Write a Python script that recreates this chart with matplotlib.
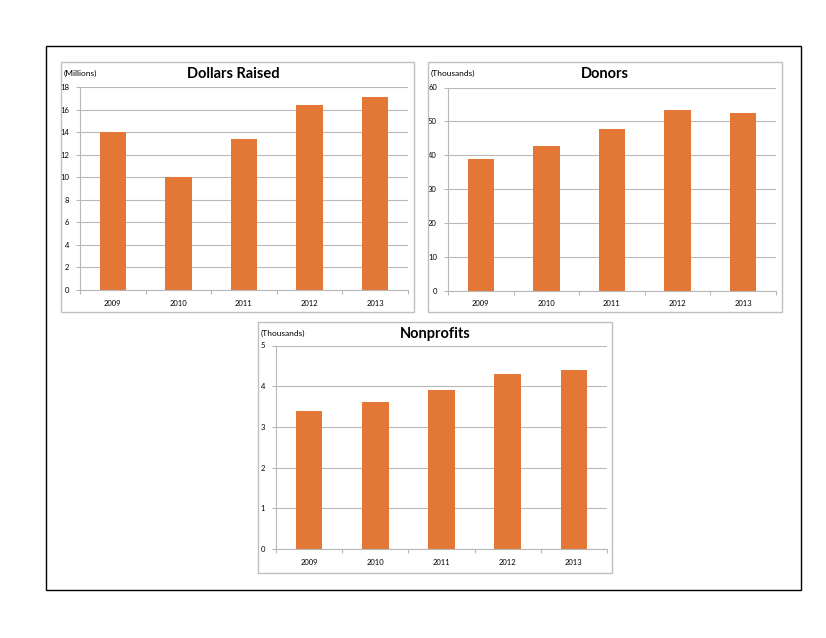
import matplotlib
matplotlib.use('Agg')
import matplotlib.pyplot as plt
from matplotlib.patches import Rectangle

W, H = 826, 638

years = ['2009', '2010', '2011', '2012', '2013']
dollars = [14.0, 10.0, 13.4, 16.4, 17.1]
donors = [38.8, 42.6, 47.6, 53.3, 52.4]
nonprofits = [3.4, 3.6, 3.9, 4.3, 4.4]

bar_color = '#E37735'
grid_color = '#B8B8B8'

plt.rcParams['font.family'] = ['Lato', 'DejaVu Sans']

fig = plt.figure(figsize=(W / 100, H / 100), dpi=100)


def frac(x0, y0, x1, y1):
    # pixel box (top-left origin) -> figure fraction [left, bottom, width, height]
    return [x0 / W, 1 - y1 / H, (x1 - x0) / W, (y1 - y0) / H]


def add_box(x0, y0, x1, y1, color, lw):
    l, b, w, h = frac(x0, y0, x1, y1)
    fig.patches.append(Rectangle((l, b), w, h, transform=fig.transFigure,
                                 fill=False, edgecolor=color, linewidth=lw))


# outer frame
add_box(45.5, 45.5, 801, 589.5, 'black', 1.0)


def panel(box, plot, values, ymax, step, title, unit, title_x):
    add_box(*box, '#BFBFBF', 1.0)
    ax = fig.add_axes(frac(*plot))
    x = range(len(values))
    ax.bar(x, values, width=0.4, color=bar_color, zorder=2)
    ax.set_xlim(-0.5, len(values) - 0.5)
    ax.set_ylim(0, ymax)
    ax.set_yticks(range(0, ymax + 1, step))
    ax.yaxis.grid(True, color=grid_color, linewidth=0.8, zorder=0)
    ax.set_axisbelow(True)
    # separators between categories as major ticks, labels on minor ticks
    ax.set_xticks([i + 0.5 for i in range(-1, len(values))], minor=False)
    ax.set_xticklabels([])
    ax.set_xticks(list(x), minor=True)
    ax.set_xticklabels(years, minor=True)
    ax.tick_params(axis='x', which='major', length=3, color=grid_color)
    ax.tick_params(axis='x', which='minor', length=0, labelsize=5.5, pad=7)
    ax.tick_params(axis='y', length=3, color=grid_color, labelsize=5.5, pad=5)
    for s in ['top', 'right']:
        ax.spines[s].set_visible(False)
    for s in ['left', 'bottom']:
        ax.spines[s].set_color(grid_color)
        ax.spines[s].set_linewidth(0.8)
    bx0, by0 = box[0], box[1]
    fig.text(title_x / W, 1 - (by0 + 12) / H, title, ha='center', va='center',
             fontsize=10.5, fontweight='bold')
    fig.text((bx0 + 3) / W, 1 - (by0 + 11) / H, unit, ha='left', va='center',
             fontsize=6)


panel((60.5, 62.5, 414, 312), (80, 87, 408, 290), dollars, 18, 2,
      'Dollars Raised', '(Millions)', 233)
panel((428, 62.5, 782, 312), (448, 87.5, 776, 290.5), donors, 60, 10,
      'Donors', '(Thousands)', 605)
panel((258, 322, 612, 573), (276, 345.5, 607, 549), nonprofits, 5, 1,
      'Nonprofits', '(Thousands)', 435)

fig.savefig('out.png', dpi=100)
